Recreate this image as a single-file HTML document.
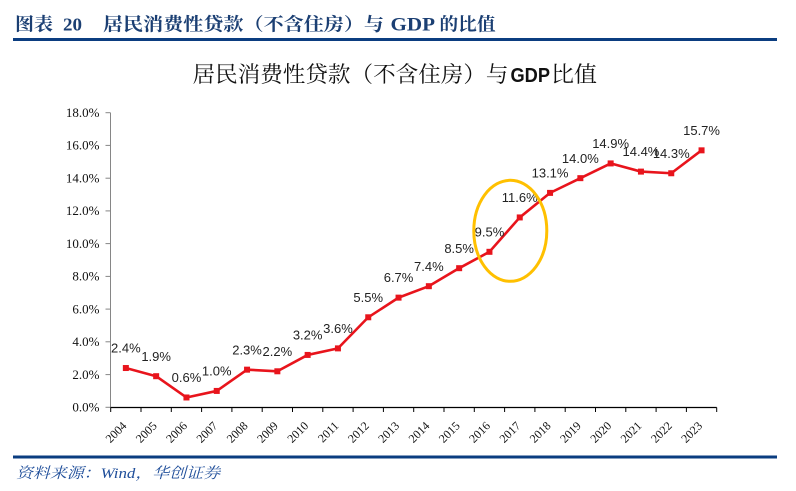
<!DOCTYPE html>
<html><head><meta charset="utf-8"><style>
html,body{margin:0;padding:0;background:#fff;}
svg{display:block;}
</style></head><body>
<svg width="796" height="491" viewBox="0 0 796 491" xmlns="http://www.w3.org/2000/svg">
<rect width="796" height="491" fill="#fff"/>
<!-- header -->
<g font-family="'Liberation Serif','Noto Serif CJK SC',serif" font-weight="bold" fill="#1b3f73" font-size="18">
<text x="15" y="30.5" textLength="38" lengthAdjust="spacingAndGlyphs">图表</text>
<text x="63" y="30.5" textLength="19" lengthAdjust="spacingAndGlyphs">20</text>
<text x="103" y="30.5" textLength="281" lengthAdjust="spacingAndGlyphs">居民消费性贷款（不含住房）与</text>
<text x="390.5" y="30.5" textLength="44.5" lengthAdjust="spacingAndGlyphs" font-size="19">GDP</text>
<text x="439.5" y="30.5" textLength="56" lengthAdjust="spacingAndGlyphs">的比值</text>
</g>
<rect x="13" y="38" width="764" height="3" fill="#0b3d80"/>
<!-- chart title -->
<g font-size="22" fill="#111">
<text x="192.5" y="82" font-family="'Liberation Serif','Noto Serif CJK SC',serif" textLength="316" lengthAdjust="spacingAndGlyphs">居民消费性贷款（不含住房）与</text>
<text x="510.5" y="82" font-family="'Liberation Sans',sans-serif" font-weight="bold" font-size="20" textLength="39.5" lengthAdjust="spacingAndGlyphs">GDP</text>
<text x="551" y="82" font-family="'Liberation Serif','Noto Serif CJK SC',serif" textLength="46" lengthAdjust="spacingAndGlyphs">比值</text>
</g>
<!-- y axis -->
<line x1="110.5" y1="112.7" x2="110.5" y2="407.3" stroke="#868686" stroke-width="1"/>
<g stroke="#868686" stroke-width="1">
<line x1="105.5" y1="407.3" x2="110.5" y2="407.3"/>
<line x1="105.5" y1="374.6" x2="110.5" y2="374.6"/>
<line x1="105.5" y1="341.8" x2="110.5" y2="341.8"/>
<line x1="105.5" y1="309.1" x2="110.5" y2="309.1"/>
<line x1="105.5" y1="276.4" x2="110.5" y2="276.4"/>
<line x1="105.5" y1="243.6" x2="110.5" y2="243.6"/>
<line x1="105.5" y1="210.9" x2="110.5" y2="210.9"/>
<line x1="105.5" y1="178.2" x2="110.5" y2="178.2"/>
<line x1="105.5" y1="145.4" x2="110.5" y2="145.4"/>
<line x1="105.5" y1="112.7" x2="110.5" y2="112.7"/>
</g>
<g font-family="'Liberation Serif',serif" font-size="13" fill="#111" text-anchor="end">
<text x="99.5" y="411.6">0.0%</text>
<text x="99.5" y="378.9">2.0%</text>
<text x="99.5" y="346.1">4.0%</text>
<text x="99.5" y="313.4">6.0%</text>
<text x="99.5" y="280.7">8.0%</text>
<text x="99.5" y="247.9">10.0%</text>
<text x="99.5" y="215.2">12.0%</text>
<text x="99.5" y="182.5">14.0%</text>
<text x="99.5" y="149.7">16.0%</text>
<text x="99.5" y="117">18.0%</text>
</g>
<!-- x axis -->
<line x1="110.5" y1="407.5" x2="716.7" y2="407.5" stroke="#000" stroke-width="1.3"/>
<g stroke="#000" stroke-width="1">
<line x1="110.7" y1="407.5" x2="110.7" y2="412"/>
<line x1="141" y1="407.5" x2="141" y2="412"/>
<line x1="171.3" y1="407.5" x2="171.3" y2="412"/>
<line x1="201.6" y1="407.5" x2="201.6" y2="412"/>
<line x1="231.9" y1="407.5" x2="231.9" y2="412"/>
<line x1="262.2" y1="407.5" x2="262.2" y2="412"/>
<line x1="292.5" y1="407.5" x2="292.5" y2="412"/>
<line x1="322.8" y1="407.5" x2="322.8" y2="412"/>
<line x1="353.1" y1="407.5" x2="353.1" y2="412"/>
<line x1="383.4" y1="407.5" x2="383.4" y2="412"/>
<line x1="413.7" y1="407.5" x2="413.7" y2="412"/>
<line x1="444" y1="407.5" x2="444" y2="412"/>
<line x1="474.3" y1="407.5" x2="474.3" y2="412"/>
<line x1="504.6" y1="407.5" x2="504.6" y2="412"/>
<line x1="534.9" y1="407.5" x2="534.9" y2="412"/>
<line x1="565.2" y1="407.5" x2="565.2" y2="412"/>
<line x1="595.5" y1="407.5" x2="595.5" y2="412"/>
<line x1="625.8" y1="407.5" x2="625.8" y2="412"/>
<line x1="656.1" y1="407.5" x2="656.1" y2="412"/>
<line x1="686.4" y1="407.5" x2="686.4" y2="412"/>
<line x1="716.7" y1="407.5" x2="716.7" y2="412"/>
</g>
<g font-family="'Liberation Serif',serif" font-size="12" fill="#111" text-anchor="end">
<text transform="translate(127.3,426.5) rotate(-45)">2004</text>
<text transform="translate(157.6,426.5) rotate(-45)">2005</text>
<text transform="translate(187.9,426.5) rotate(-45)">2006</text>
<text transform="translate(218.2,426.5) rotate(-45)">2007</text>
<text transform="translate(248.5,426.5) rotate(-45)">2008</text>
<text transform="translate(278.8,426.5) rotate(-45)">2009</text>
<text transform="translate(309.1,426.5) rotate(-45)">2010</text>
<text transform="translate(339.4,426.5) rotate(-45)">2011</text>
<text transform="translate(369.7,426.5) rotate(-45)">2012</text>
<text transform="translate(400,426.5) rotate(-45)">2013</text>
<text transform="translate(430.3,426.5) rotate(-45)">2014</text>
<text transform="translate(460.6,426.5) rotate(-45)">2015</text>
<text transform="translate(490.9,426.5) rotate(-45)">2016</text>
<text transform="translate(521.2,426.5) rotate(-45)">2017</text>
<text transform="translate(551.5,426.5) rotate(-45)">2018</text>
<text transform="translate(581.8,426.5) rotate(-45)">2019</text>
<text transform="translate(612.1,426.5) rotate(-45)">2020</text>
<text transform="translate(642.4,426.5) rotate(-45)">2021</text>
<text transform="translate(672.7,426.5) rotate(-45)">2022</text>
<text transform="translate(703,426.5) rotate(-45)">2023</text>
</g>
<!-- series -->
<polyline fill="none" stroke="#e8141c" stroke-width="2.6" stroke-linejoin="round"
points="125.85,368.02 156.15,376.2 186.45,397.48 216.75,390.93 247.05,369.66 277.35,371.29 307.65,354.93 337.95,348.38 368.25,317.28 398.55,297.64 428.85,286.18 459.15,268.18 489.45,251.81 519.75,217.44 550.05,192.89 580.35,178.16 610.65,163.43 640.95,171.61 671.25,173.26 701.55,150.34"/>
<g fill="#e8141c">
<rect x="122.85" y="365.02" width="6" height="6"/>
<rect x="153.15" y="373.2" width="6" height="6"/>
<rect x="183.45" y="394.48" width="6" height="6"/>
<rect x="213.75" y="387.93" width="6" height="6"/>
<rect x="244.05" y="366.66" width="6" height="6"/>
<rect x="274.35" y="368.29" width="6" height="6"/>
<rect x="304.65" y="351.93" width="6" height="6"/>
<rect x="334.95" y="345.38" width="6" height="6"/>
<rect x="365.25" y="314.28" width="6" height="6"/>
<rect x="395.55" y="294.64" width="6" height="6"/>
<rect x="425.85" y="283.18" width="6" height="6"/>
<rect x="456.15" y="265.18" width="6" height="6"/>
<rect x="486.45" y="248.81" width="6" height="6"/>
<rect x="516.75" y="214.44" width="6" height="6"/>
<rect x="547.05" y="189.89" width="6" height="6"/>
<rect x="577.35" y="175.16" width="6" height="6"/>
<rect x="607.65" y="160.43" width="6" height="6"/>
<rect x="637.95" y="168.61" width="6" height="6"/>
<rect x="668.25" y="170.26" width="6" height="6"/>
<rect x="698.55" y="147.34" width="6" height="6"/>
</g>
<g font-family="'Liberation Sans',sans-serif" font-size="13" fill="#222" text-anchor="middle">
<text x="125.85" y="352.6">2.4%</text>
<text x="156.15" y="360.8">1.9%</text>
<text x="186.45" y="382.1">0.6%</text>
<text x="216.75" y="375.5">1.0%</text>
<text x="247.05" y="354.3">2.3%</text>
<text x="277.35" y="355.9">2.2%</text>
<text x="307.65" y="339.5">3.2%</text>
<text x="337.95" y="333">3.6%</text>
<text x="368.25" y="301.9">5.5%</text>
<text x="398.55" y="282.2">6.7%</text>
<text x="428.85" y="270.8">7.4%</text>
<text x="459.15" y="252.8">8.5%</text>
<text x="489.45" y="236.4">9.5%</text>
<text x="519.75" y="202">11.6%</text>
<text x="550.05" y="177.5">13.1%</text>
<text x="580.35" y="162.8">14.0%</text>
<text x="610.65" y="148">14.9%</text>
<text x="640.95" y="156.2">14.4%</text>
<text x="671.25" y="157.9">14.3%</text>
<text x="701.55" y="134.9">15.7%</text>
</g>
<!-- highlight ellipse -->
<ellipse cx="510.3" cy="230.8" rx="36.5" ry="50.5" fill="none" stroke="#ffc000" stroke-width="3"/>
<!-- footer -->
<rect x="13" y="455.5" width="764" height="3" fill="#0b3d80"/>
<text x="16" y="478" font-family="'Liberation Serif','Noto Serif CJK SC',serif" font-style="italic" font-size="15" fill="#1f4e9a" textLength="204" lengthAdjust="spacingAndGlyphs">资料来源：Wind，华创证券</text>
</svg>
</body></html>
